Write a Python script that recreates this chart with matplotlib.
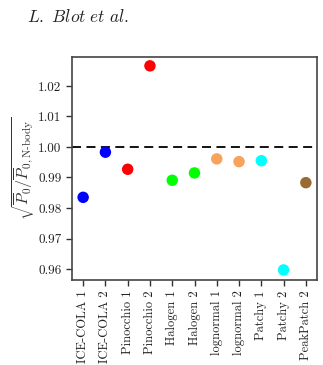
import matplotlib
matplotlib.use('Agg')
import matplotlib.pyplot as plt

plt.rcParams['font.family'] = 'cmr10'
plt.rcParams['mathtext.fontset'] = 'cm'
plt.rcParams['axes.formatter.use_mathtext'] = True

labels = ['ICE-COLA 1', 'ICE-COLA 2', 'Pinocchio 1', 'Pinocchio 2', 'Halogen 1',
          'Halogen 2', 'lognormal 1', 'lognormal 2', 'Patchy 1', 'Patchy 2',
          'PeakPatch 2']
ratio = [0.9835, 0.9983, 0.9927, 1.0266, 0.9891, 0.9915, 0.9961, 0.9952,
         0.9955, 0.9597, 0.9883]
colors = ['blue', 'blue', 'red', 'red', 'lime', 'lime', '#f7a35c', '#f7a35c',
          'cyan', 'cyan', '#9a6a33']
yticks = [0.96, 0.97, 0.98, 0.99, 1.00, 1.01, 1.02]

fig = plt.figure(figsize=(3.23, 3.65), dpi=100)
ax = fig.add_axes([72/323, 1-280/365, 245/323, 223/365])

x = list(range(len(labels)))
ax.axhline(1.0, color='black', ls='--', lw=1.3, dashes=(5, 3), zorder=1)
ax.scatter(x, ratio, c=colors, s=68, zorder=2, edgecolors='none')

ax.set_xlim(-0.5, len(labels) - 0.5)
ax.set_ylim(0.9564, 1.0295)
ax.set_xticks(x)
ax.set_xticklabels(labels, rotation=90, fontsize=9)
ax.set_yticks(yticks)
ax.set_yticklabels(['%.2f' % v for v in yticks], fontsize=9.5)
ax.tick_params(direction='out', length=4, width=1, colors='#333333', labelcolor='#222222')
for s in ax.spines.values():
    s.set_color('#444444')
    s.set_linewidth(1.2)

ax.set_ylabel(r'$\sqrt{\overline{P}_0/\overline{P}_{0,\mathrm{N\text{-}body}}}$',
              fontsize=11.5, color='#333333', labelpad=1)

fig.text(27/323, 1-22/365, r'$L.\ Blot\ et\ al.$', fontsize=12.5, color='#222222')

fig.savefig('out.png', dpi=100)
